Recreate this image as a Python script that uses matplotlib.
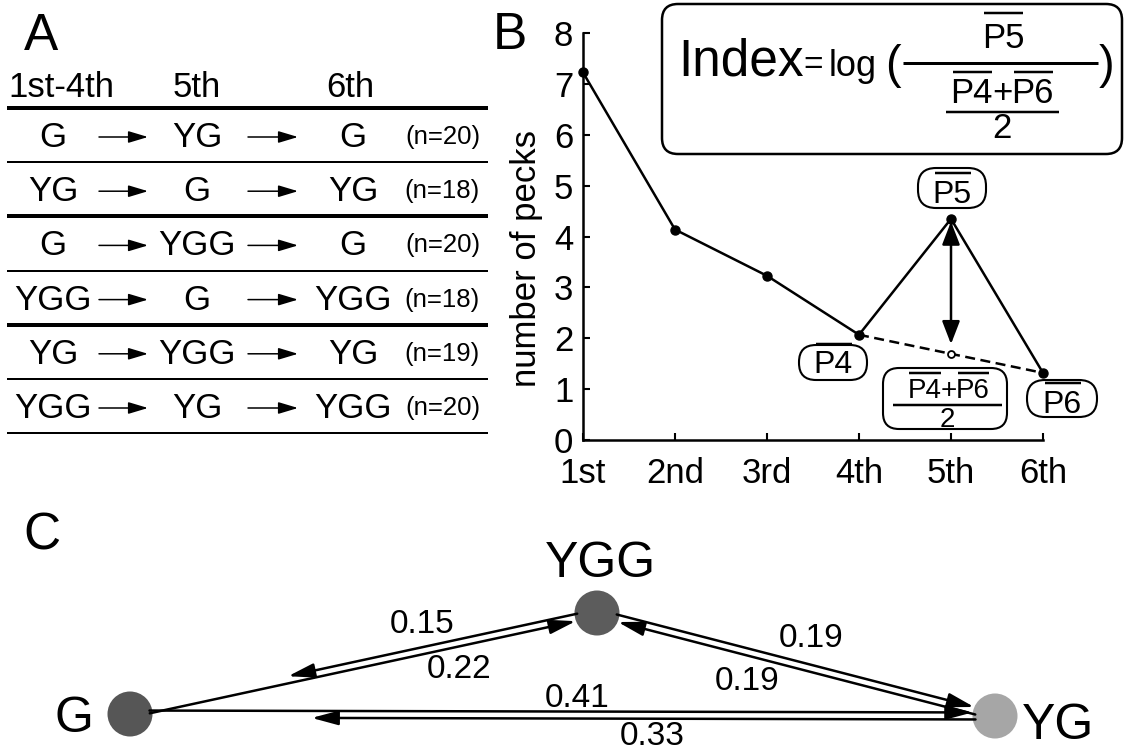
import numpy as np
import matplotlib
matplotlib.use("Agg")
import matplotlib.pyplot as plt
from matplotlib.patches import Circle, FancyBboxPatch

plt.rcParams["font.family"] = ["Liberation Sans", "DejaVu Sans"]

# ---------- data ----------
# A: stimulus schedule per group
col_heads = ["1st-4th", "5th", "6th"]
schedules = [("G", "YG", "G"), ("YG", "G", "YG"), ("G", "YGG", "G"),
             ("YGG", "G", "YGG"), ("YG", "YGG", "YG"), ("YGG", "YG", "YGG")]
n_birds = [20, 18, 20, 18, 19, 20]

# B: mean number of pecks per trial
trials = ["1st", "2nd", "3rd", "4th", "5th", "6th"]
pecks = [7.23, 4.14, 3.23, 2.07, 4.35, 1.32]

# C: index between stimuli (source, target, value)
stimuli = ["G", "YGG", "YG"]
stim_gray = ["#565656", "#5c5c5c", "#a6a6a6"]
edges = [("YGG", "G", 0.15), ("G", "YGG", 0.22), ("YGG", "YG", 0.19),
         ("YG", "YGG", 0.19), ("G", "YG", 0.41), ("YG", "G", 0.33)]

W, H = 1124, 750
PX = 0.72  # points per pixel at dpi 100

fig = plt.figure(figsize=(W / 100, H / 100), dpi=100)

# ---------- B: line chart ----------
ax = fig.add_axes([583 / W, 1 - 440 / H, 460 / W, 406.7 / H])
x = np.arange(len(trials))
mid = (pecks[3] + pecks[5]) / 2
ax.plot([3, 5], [pecks[3], pecks[5]], color="k", lw=1.8, dashes=(4, 2.2), zorder=2)
ax.plot(x, pecks, "-o", color="k", lw=1.8, ms=6.5, clip_on=False, zorder=3)
ax.plot(4, mid, "o", mfc="white", mec="k", ms=5, mew=1.3, zorder=4)
ax.annotate("", xy=(4, pecks[4]), xytext=(4, mid),
            arrowprops=dict(arrowstyle="<|-|>,head_length=14,head_width=5.4",
                            mutation_scale=1, lw=1.8, color="k",
                            shrinkA=7, shrinkB=2))
for s in ("top", "right"):
    ax.spines[s].set_visible(False)
for s in ("left", "bottom"):
    ax.spines[s].set_linewidth(1.8)
ax.set_xlim(0, 5)
ax.set_ylim(0, 8)
ax.set_xticks(x, trials)
ax.set_yticks(range(9))
ax.tick_params(direction="in", length=5, width=1.5, labelsize=25)
ax.tick_params(axis="y", pad=7)
ax.tick_params(axis="x", pad=12)
ax.set_ylabel("number of pecks", fontsize=25)
ax.yaxis.set_label_coords(-0.087, 0.446)

# ---------- overlay in pixel coordinates ----------
ov = fig.add_axes([0, 0, 1, 1])
ov.set_xlim(0, W)
ov.set_ylim(H, 0)
ov.axis("off")
ov.set_facecolor("none")
renderer = fig.canvas.get_renderer()


def hline(x0, x1, y, lw):
    ov.plot([x0, x1], [y, y], color="k", lw=lw * PX, solid_capstyle="butt")


def extent(t):
    return t.get_window_extent(renderer).transformed(ov.transData.inverted())


def bar_text(x, y, s, size, ha="center", gap=7):
    t = ov.text(x, y, s, fontsize=size, ha=ha, va="baseline")
    bb = extent(t)
    fpx = size / PX
    hline(bb.x0 + 0.07 * fpx, bb.x1 - 0.03 * fpx, y - 0.716 * fpx - gap, 2.5)
    return t


def sum_bar_text(cx, y, size, gap):
    plus = ov.text(cx, y, "+", fontsize=size, ha="center", va="baseline")
    pb = extent(plus)
    bar_text(pb.x0 + 1, y, "P4", size, ha="right", gap=gap)
    bar_text(pb.x1 - 1, y, "P6", size, ha="left", gap=gap)


def pill(cx, cy, w, h, r):
    ov.add_patch(FancyBboxPatch((cx - w / 2, cy - h / 2), w, h,
                                boxstyle=f"round,pad=0,rounding_size={r}",
                                fc="white", ec="k", lw=1.5, zorder=1))


def arrow(p0, p1, hl, hw, lw):
    ov.annotate("", xy=p1, xytext=p0,
                arrowprops=dict(arrowstyle=f"-|>,head_length={hl},head_width={hw}",
                                mutation_scale=1, lw=lw, color="k",
                                shrinkA=0, shrinkB=0))


# panel letters
ov.text(41, 50, "A", fontsize=37, ha="center", va="baseline")
ov.text(510, 49, "B", fontsize=37, ha="center", va="baseline")
ov.text(42, 550, "C", fontsize=37, ha="center", va="baseline")

# ---------- A: table ----------
col_x = [53, 197, 353]
ov.text(8, 97, col_heads[0], fontsize=25, ha="left", va="baseline")
ov.text(197, 97, col_heads[1], fontsize=25, ha="center", va="baseline")
ov.text(350, 97, col_heads[2], fontsize=25, ha="center", va="baseline")
row_h = 54.2
for k in range(len(schedules) + 1):
    thick = k % 2 == 0 and k < len(schedules)
    hline(7, 488, 108 + row_h * k, 4 if thick else 2)
for i, (row, n) in enumerate(zip(schedules, n_birds)):
    base = 147 + row_h * i
    for cx, s in zip(col_x, row):
        ov.text(cx, base, s, fontsize=25, ha="center", va="baseline")
    ov.text(442.5, base - 3, f"(n={n})", fontsize=18.5, ha="center", va="baseline")
    for x0, x1 in [(99, 148), (248, 298)]:
        arrow((x0, base - 10), (x1, base - 10), 12, 3.6, 1.1)

# ---------- B: formula and labels ----------
ov.add_patch(FancyBboxPatch((662, 4), 460, 150, boxstyle="round,pad=0,rounding_size=16",
                            fc="none", ec="k", lw=1.8))
ov.text(678, 76, "Index", fontsize=37, ha="left", va="baseline")
ov.text(803, 74, "=", fontsize=24, ha="left", va="baseline")
ov.text(829, 76, "log", fontsize=26, ha="left", va="baseline")
ov.text(893, 78, "(", fontsize=34, ha="center", va="baseline")
ov.text(1107, 78, ")", fontsize=34, ha="center", va="baseline")
hline(903, 1098, 63.3, 3)
bar_text(1003, 48, "P5", 25, gap=10)
sum_bar_text(1002, 103, 25, gap=6)
hline(946, 1059, 112, 2.5)
ov.text(1001.5, 138, "2", fontsize=25, ha="center", va="baseline")

pill(952, 188, 68, 40, 18)
bar_text(952, 203, "P5", 23, gap=7)
pill(833, 362.5, 68, 35, 17)
bar_text(833, 373, "P4", 23, gap=6)
pill(1062, 398.5, 70, 37, 18)
bar_text(1062, 413, "P6", 23, gap=7)
pill(945, 398.5, 124, 61, 16)
sum_bar_text(948.5, 398, 20, gap=5)
hline(893, 1002, 405, 2.5)
ov.text(947, 427, "2", fontsize=20, ha="center", va="baseline")

# ---------- C: transition diagram ----------
node_xy = {"G": (130, 714), "YGG": (597, 613), "YG": (995, 716)}
node_r = 22.5
for s, c in zip(stimuli, stim_gray):
    ov.add_patch(Circle(node_xy[s], node_r, fc=c, ec="none", zorder=3))
ov.text(73.5, 732, "G", fontsize=36, ha="center", va="baseline")
ov.text(600, 577, "YGG", fontsize=36, ha="center", va="baseline")
ov.text(1022, 739, "YG", fontsize=36, ha="left", va="baseline")

# per edge: side offset (px, + = upper line), fraction of span where the tip stops
edge_side = [3.5, -3.5, 3.5, -3.5, 3.5, -3.5]
edge_reach = [0.66, 1.0, 1.0, 1.0, 1.0, 0.79]
edge_label_xy = [(422, 633), (459, 678), (811, 647), (747, 690), (577, 707), (652, 745)]
for (a, b, v), side, reach, (lx, ly) in zip(edges, edge_side, edge_reach, edge_label_xy):
    pa, pb = np.array(node_xy[a], float), np.array(node_xy[b], float)
    d = (pb - pa) / np.linalg.norm(pb - pa)
    nrm = np.array([d[1], -d[0]])
    if nrm[1] > 0:
        nrm = -nrm
    span = np.linalg.norm(pb - pa)
    p0 = pa + d * (node_r - 3) + nrm * side
    if reach >= 1.0:
        p1 = pb - d * node_r + nrm * side
    else:
        p1 = pa + d * span * reach + nrm * side
    arrow(tuple(p0), tuple(p1), 16, 4.3, 1.8)
    ov.text(lx, ly, f"{v:.2f}", fontsize=24, ha="center", va="baseline")

fig.savefig("out.png", dpi=100)
